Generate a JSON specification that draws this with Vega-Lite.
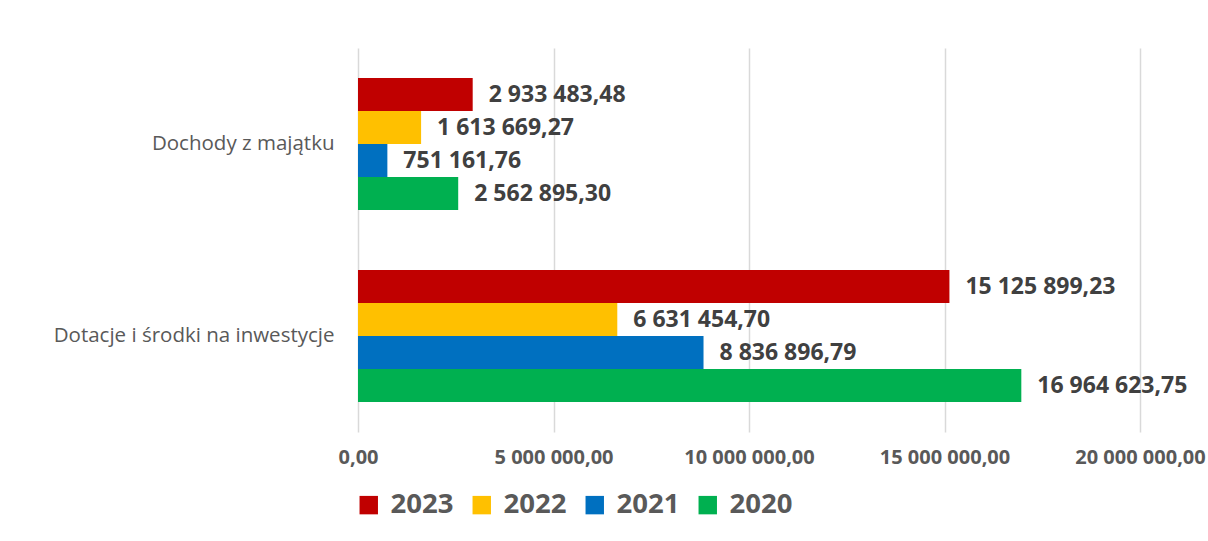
{
  "$schema": "https://vega.github.io/schema/vega-lite/v6.json",
  "width": 782,
  "height": 384,
  "autosize": "none",
  "padding": {"left": 358, "top": 48, "right": 68, "bottom": 109},
  "background": "#ffffff",
  "config": {
    "locale": {"number": {"decimal": ",", "thousands": " ", "grouping": [3], "currency": ["", ""]}},
    "view": {"stroke": null},
    "font": "Open Sans"
  },
  "data": {
    "values": [
      {"kategoria": "Dochody z majątku", "rok": "2023", "wartosc": 2933483.48},
      {"kategoria": "Dochody z majątku", "rok": "2022", "wartosc": 1613669.27},
      {"kategoria": "Dochody z majątku", "rok": "2021", "wartosc": 751161.76},
      {"kategoria": "Dochody z majątku", "rok": "2020", "wartosc": 2562895.30},
      {"kategoria": "Dotacje i środki na inwestycje", "rok": "2023", "wartosc": 15125899.23},
      {"kategoria": "Dotacje i środki na inwestycje", "rok": "2022", "wartosc": 6631454.70},
      {"kategoria": "Dotacje i środki na inwestycje", "rok": "2021", "wartosc": 8836896.79},
      {"kategoria": "Dotacje i środki na inwestycje", "rok": "2020", "wartosc": 16964623.75}
    ]
  },
  "encoding": {
    "y": {
      "field": "kategoria",
      "type": "nominal",
      "sort": ["Dochody z majątku", "Dotacje i środki na inwestycje"],
      "scale": {"paddingInner": 0.3125, "paddingOuter": 0.15625},
      "axis": {
        "title": null,
        "domain": false,
        "ticks": false,
        "labelPadding": 24,
        "labelFontSize": 20.5,
        "labelColor": "#595959",
        "labelFont": "Open Sans",
        "labelLimit": 400
      }
    },
    "yOffset": {
      "field": "rok",
      "type": "nominal",
      "sort": ["2023", "2022", "2021", "2020"],
      "scale": {"paddingInner": 0, "paddingOuter": 0}
    },
    "x": {
      "field": "wartosc",
      "type": "quantitative",
      "scale": {"domain": [0, 20000000], "nice": false},
      "axis": {
        "title": null,
        "values": [0, 5000000, 10000000, 15000000, 20000000],
        "format": ",.2f",
        "domain": false,
        "ticks": false,
        "grid": true,
        "gridColor": "#D9D9D9",
        "gridWidth": 1.5,
        "labelPadding": 15,
        "labelFontSize": 20,
        "labelFontWeight": "bold",
        "labelColor": "#595959",
        "labelFont": "Open Sans",
        "labelFlush": false,
        "labelOverlap": false
      }
    }
  },
  "layer": [
    {
      "mark": {"type": "bar"},
      "encoding": {
        "color": {
          "field": "rok",
          "type": "nominal",
          "sort": ["2023", "2022", "2021", "2020"],
          "scale": {
            "domain": ["2023", "2022", "2021", "2020"],
            "range": ["#C00000", "#FFC000", "#0070C0", "#00B050"]
          },
          "legend": {
            "title": null,
            "orient": "none",
            "legendX": -3,
            "legendY": 443,
            "direction": "horizontal",
            "columns": 4,
            "symbolType": "square",
            "symbolSize": 340,
            "symbolStrokeWidth": 0,
            "labelFontSize": 27.5,
            "labelFontWeight": "bold",
            "labelColor": "#595959",
            "labelFont": "Open Sans",
            "labelOffset": 8,
            "columnPadding": 14
          }
        }
      }
    },
    {
      "mark": {
        "type": "text",
        "align": "left",
        "baseline": "middle",
        "dx": 16,
        "fontSize": 23,
        "fontWeight": "bold",
        "color": "#404040",
        "font": "Open Sans"
      },
      "encoding": {
        "text": {"field": "wartosc", "type": "quantitative", "format": ",.2f"}
      }
    }
  ]
}
